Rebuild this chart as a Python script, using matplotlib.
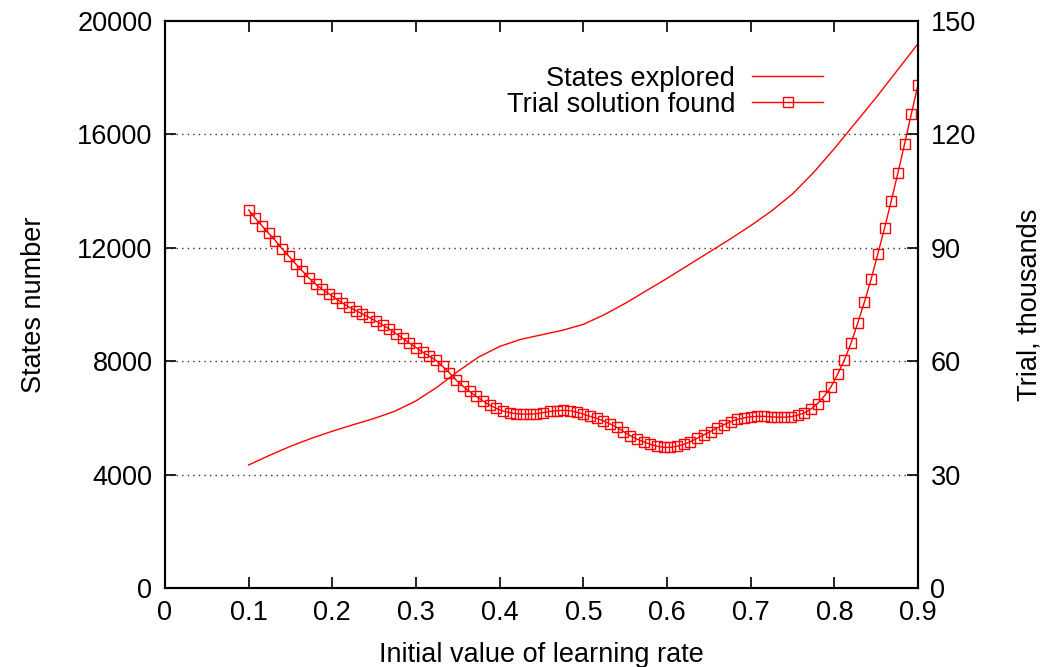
import numpy as np
import matplotlib
matplotlib.use("Agg")
import matplotlib.pyplot as plt

plt.rcParams['font.family'] = ['Liberation Sans', 'DejaVu Sans']

# States explored (left axis)
states_x = [0.10, 0.125, 0.15, 0.175, 0.20, 0.225, 0.25, 0.275, 0.30, 0.325, 0.35,
            0.375, 0.40, 0.425, 0.45, 0.475, 0.50, 0.525, 0.55, 0.575, 0.60,
            0.625, 0.65, 0.675, 0.70, 0.725, 0.75, 0.775, 0.80, 0.825, 0.85,
            0.875, 0.90]
states_y = [4340, 4680, 5000, 5280, 5530, 5760, 5980, 6240, 6600, 7080, 7640,
            8150, 8520, 8770, 8930, 9090, 9300, 9640, 10040, 10480, 10920,
            11380, 11840, 12300, 12780, 13300, 13900, 14650, 15500, 16400, 17300,
            18250, 19200]

# Trial solution found (right axis, thousands), one marker every 0.008
trial = [100.0, 97.8, 95.8, 93.8, 91.9, 89.7, 87.8, 85.8, 83.9, 82.0,
         80.4, 79.0, 77.8, 76.6, 75.4, 74.3, 73.4, 72.5, 71.6, 70.6,
         69.6, 68.5, 67.3, 66.1, 64.8, 63.6, 62.4, 61.3, 60.2, 58.6,
         56.9, 55.0, 53.4, 52.0, 50.7, 49.5, 48.4, 47.5, 46.8, 46.4,
         46.1, 46.0, 46.0, 46.1, 46.4, 46.7, 46.9, 47.0, 46.9, 46.5,
         46.0, 45.4, 44.9, 44.2, 43.4, 42.5, 41.4, 40.3, 39.4, 38.7,
         38.0, 37.5, 37.2, 37.2, 37.5, 38.0, 38.7, 39.6, 40.5, 41.4,
         42.3, 43.2, 44.0, 44.6, 45.0, 45.3, 45.4, 45.4, 45.3, 45.2,
         45.2, 45.3, 45.7, 46.3, 47.3, 48.8, 50.8, 53.2, 56.6, 60.3,
         64.8, 70.1, 75.7, 81.7, 88.4, 95.2, 102.4, 109.8, 117.5, 125.4,
         133.1]
trial_x = np.linspace(0.1, 0.9, len(trial))

x_ticks = [0, 0.1, 0.2, 0.3, 0.4, 0.5, 0.6, 0.7, 0.8, 0.9]
x_labels = ['0', '0.1', '0.2', '0.3', '0.4', '0.5', '0.6', '0.7', '0.8', '0.9']
y_ticks = [0, 4000, 8000, 12000, 16000, 20000]
y2_ticks = [0, 30, 60, 90, 120, 150]

fs = 19.5

fig = plt.figure(figsize=(10.42, 6.67), dpi=100)
ax = fig.add_axes([165 / 1042, 1 - 588 / 667, (918 - 165) / 1042, (588 - 21) / 667])
ax2 = ax.twinx()

l1, = ax.plot(states_x, states_y, color='#ff0000', lw=1.0)
l2, = ax2.plot(trial_x, trial, color='#ff0000', lw=1.0, marker='s', ms=7.5,
               mfc='none', mec='#ff0000', mew=1.0)

ax.set_xlim(0, 0.9)
ax.set_ylim(0, 20000)
ax2.set_ylim(0, 150)
ax.set_xticks(x_ticks)
ax.set_xticklabels(x_labels)
ax.set_yticks(y_ticks)
ax2.set_yticks(y2_ticks)

for yv in y_ticks[1:-1]:
    ax.axhline(yv, color='#333333', lw=1.0, ls=(0, (1, 3)), zorder=0)

ax.tick_params(axis='both', direction='in', length=8, width=1.2, labelsize=fs, pad=9)
ax.tick_params(axis='x', top=True)
ax2.tick_params(axis='y', direction='in', length=8, width=1.2, labelsize=fs, pad=9)
for a in (ax, ax2):
    for s in a.spines.values():
        s.set_linewidth(1.5)

ax.set_xlabel('Initial value of learning rate', fontsize=fs, labelpad=11)
ax.set_ylabel('States number', fontsize=fs, labelpad=22)
ax2.set_ylabel('Trial, thousands', fontsize=fs, labelpad=29)

ax2.legend([l1, l2], ['States explored', 'Trial solution found'], loc='upper right',
           bbox_to_anchor=(0.906, 0.964), frameon=False, markerfirst=False,
           fontsize=fs, handlelength=2.6, handletextpad=0.63, labelspacing=0.0)

fig.savefig('out.png', dpi=100)
